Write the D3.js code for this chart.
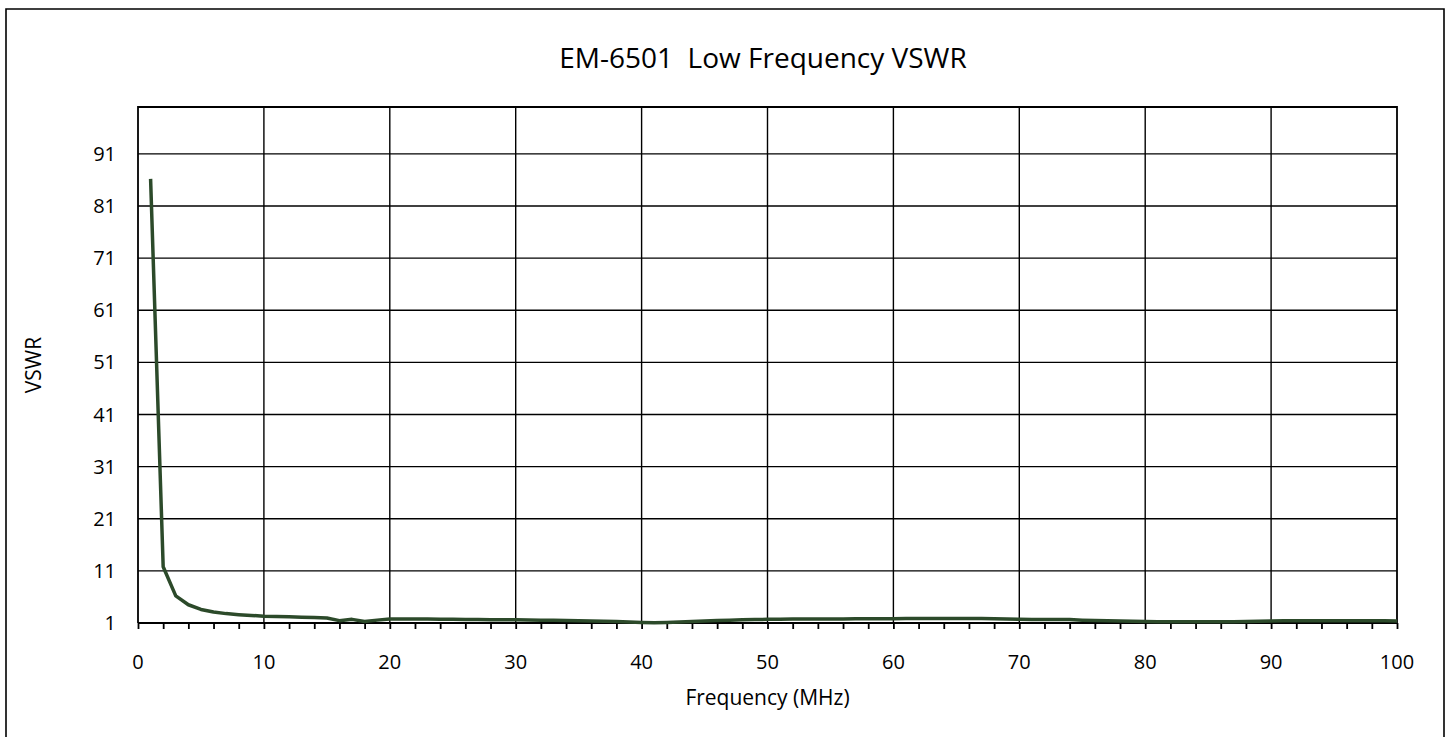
<!DOCTYPE html>
<html>
<head>
<meta charset="utf-8">
<script src="https://cdn.jsdelivr.net/npm/d3@7"></script>
<style>
  body { margin: 0; background: #fff; }
  text { font-family: "Open Sans", "Liberation Sans", sans-serif; fill: #000; }
</style>
</head>
<body>
<script>
// Frequency in MHz, 1..100
const freq = d3.range(1, 101);
// VSWR
const vswr = [
  86.2, 11.8, 6.2, 4.5, 3.6, 3.1, 2.8, 2.6, 2.45, 2.3,
  2.25, 2.2, 2.1, 2.05, 1.95, 1.45, 1.7, 1.3, 1.55, 1.75,
  1.75, 1.75, 1.75, 1.72, 1.7, 1.68, 1.65, 1.6, 1.6, 1.6,
  1.58, 1.55, 1.55, 1.5, 1.45, 1.4, 1.35, 1.3, 1.2, 1.1,
  1.05, 1.1, 1.2, 1.3, 1.4, 1.5, 1.55, 1.6, 1.65, 1.7,
  1.72, 1.78, 1.75, 1.75, 1.75, 1.78, 1.8, 1.82, 1.8, 1.8,
  1.85, 1.85, 1.85, 1.85, 1.85, 1.85, 1.85, 1.8, 1.75, 1.7,
  1.65, 1.65, 1.65, 1.65, 1.55, 1.5, 1.45, 1.4, 1.35, 1.3,
  1.25, 1.25, 1.25, 1.25, 1.25, 1.25, 1.25, 1.28, 1.35, 1.4,
  1.45, 1.45, 1.45, 1.45, 1.45, 1.45, 1.45, 1.45, 1.45, 1.4
];
const yTicks = [1, 11, 21, 31, 41, 51, 61, 71, 81, 91];
const xTicks = [0, 10, 20, 30, 40, 50, 60, 70, 80, 90, 100];
const xMinor = d3.range(0, 101, 2);

const W = 1447, H = 737;
const pLeft = 138, pRight = 1397, pTop = 107, pBottom = 623;

const svg = d3.select("body").append("svg")
    .attr("width", W)
    .attr("height", H);

// outer chart frame (bottom edge runs off the picture)
svg.append("path")
    .attr("d", `M6,${H + 5} L6,9 L1444,9 L1444,${H + 5}`)
    .attr("fill", "none")
    .attr("stroke", "#000")
    .attr("stroke-width", 1.6);

const x = d3.scaleLinear().domain([0, 100]).range([pLeft, pRight]);
const y = d3.scaleLinear().domain([1, 100]).range([pBottom, pTop]);

// grid
svg.append("g").selectAll("line")
    .data(yTicks.slice(1))
    .join("line")
    .attr("x1", pLeft).attr("x2", pRight)
    .attr("y1", d => y(d)).attr("y2", d => y(d))
    .attr("stroke", "#000").attr("stroke-width", 1.4);

svg.append("g").selectAll("line")
    .data(xTicks.slice(1, -1))
    .join("line")
    .attr("x1", d => x(d)).attr("x2", d => x(d))
    .attr("y1", pTop).attr("y2", pBottom)
    .attr("stroke", "#000").attr("stroke-width", 1.4);

// plot border (top, left, right)
svg.append("path")
    .attr("d", `M${pLeft},${pBottom} L${pLeft},${pTop} L${pRight},${pTop} L${pRight},${pBottom}`)
    .attr("fill", "none")
    .attr("stroke", "#000")
    .attr("stroke-width", 1.8);

// x axis with minor ticks every 2
const xAxis = svg.append("g")
    .attr("transform", `translate(0,${pBottom})`)
    .call(d3.axisBottom(x).tickValues(xMinor).tickSize(6).tickFormat(""));
xAxis.select(".domain").attr("stroke-width", 2).attr("d", `M${pLeft},0H${pRight}`);
xAxis.selectAll(".tick line").attr("stroke-width", 1.8);

svg.append("g").selectAll("text")
    .data(xTicks)
    .join("text")
    .attr("x", d => x(d))
    .attr("y", 669)
    .attr("text-anchor", "middle")
    .attr("font-size", 20)
    .text(d => d);

// y labels
svg.append("g").selectAll("text")
    .data(yTicks)
    .join("text")
    .attr("x", 116)
    .attr("y", d => y(d) + 7)
    .attr("text-anchor", "end")
    .attr("font-size", 20)
    .text(d => d);

// data line
const pts = freq.map((f, i) => [f, vswr[i]]);
svg.append("path")
    .datum(pts)
    .attr("fill", "none")
    .attr("stroke", "#2c4a2a")
    .attr("stroke-width", 3.5)
    .attr("stroke-linejoin", "round")
    .attr("d", d3.line().x(d => x(d[0])).y(d => y(d[1])));

// titles
svg.append("text")
    .attr("x", 763).attr("y", 68)
    .attr("text-anchor", "middle")
    .attr("font-size", 28)
    .style("white-space", "pre")
    .text("EM-6501  Low Frequency VSWR");

svg.append("text")
    .attr("x", (pLeft + pRight) / 2).attr("y", 705)
    .attr("text-anchor", "middle")
    .attr("font-size", 21)
    .text("Frequency (MHz)");

svg.append("text")
    .attr("transform", `translate(41,${(pTop + pBottom) / 2}) rotate(-90)`)
    .attr("text-anchor", "middle")
    .attr("font-size", 21)
    .text("VSWR");
</script>
</body>
</html>
